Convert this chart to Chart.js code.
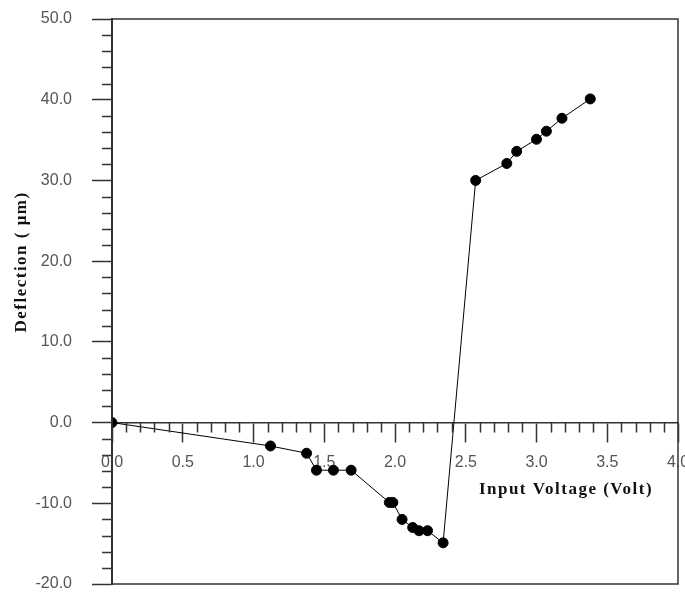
<!DOCTYPE html>
<html>
<head>
<meta charset="utf-8">
<script src="https://cdn.jsdelivr.net/npm/chart.js@4.4.1/dist/chart.umd.min.js"></script>
<style>
  body { margin: 0; background: #fff; }
</style>
</head>
<body>
<canvas id="myChart" width="685" height="593"></canvas>
<script>
var voltage = [0, 1.12, 1.375, 1.445, 1.565, 1.69, 1.96, 1.985, 2.05, 2.125, 2.17, 2.23, 2.34,
               2.57, 2.79, 2.86, 3.00, 3.07, 3.18, 3.38];
var deflection = [0, -2.9, -3.8, -5.9, -5.9, -5.9, -9.9, -9.9, -12.0, -13.0, -13.4, -13.4, -14.9,
                  30.0, 32.1, 33.6, 35.1, 36.1, 37.7, 40.1];
var xTicks = [0, 0.5, 1.0, 1.5, 2.0, 2.5, 3.0, 3.5, 4.0];
var yTicks = [-20, -10, 0, 10, 20, 30, 40, 50];

var xTitle = "Input Voltage (Volt)";
var yTitle = "Deflection ( \u03bcm)";

var points = voltage.map(function (v, i) {
    return { x: v, y: deflection[i] };
});

// box around the plot, minor ticks, axis titles
var decor = {
    id: 'decor',
    afterDraw: function (chart) {
        var ctx = chart.ctx;
        var area = chart.chartArea;
        var xs = chart.scales.x;
        var ys = chart.scales.y;
        var y0 = ys.getPixelForValue(0);
        var i, p;

        ctx.save();
        ctx.strokeStyle = '#333';
        ctx.lineWidth = 1.5;
        ctx.strokeRect(area.left, area.top, area.right - area.left, area.bottom - area.top);

        ctx.lineWidth = 1.5;
        ctx.beginPath();
        for (i = 0; i <= 40; i++) {
            if (i % 5 === 0) continue;
            p = Math.round(xs.getPixelForValue(i / 10)) + 0.5;
            ctx.moveTo(p, y0);
            ctx.lineTo(p, y0 + 10);
        }
        for (i = -20; i <= 50; i += 2) {
            if (i % 10 === 0) continue;
            p = Math.round(ys.getPixelForValue(i)) + 0.5;
            ctx.moveTo(area.left - 10, p);
            ctx.lineTo(area.left, p);
        }
        ctx.stroke();

        ctx.fillStyle = '#111';
        ctx.font = 'bold 17px "Liberation Serif", "Times New Roman", serif';
        ctx.letterSpacing = '1.5px';
        ctx.textAlign = 'center';
        ctx.textBaseline = 'middle';
        ctx.fillText(xTitle, area.left + 454, y0 + 67);

        ctx.translate(22, ys.getPixelForValue(19.9));
        ctx.rotate(-Math.PI / 2);
        ctx.fillText(yTitle, 0, 0);
        ctx.restore();
    }
};

function noPad(scale) {
    scale.paddingTop = 0;
    scale.paddingBottom = 0;
    scale.paddingLeft = 0;
    scale.paddingRight = 0;
}

var ctx = document.getElementById('myChart').getContext('2d');
new Chart(ctx, {
    type: 'scatter',
    data: {
        datasets: [{
            data: points,
            showLine: true,
            borderColor: '#000',
            borderWidth: 1,
            backgroundColor: '#000',
            pointRadius: 5,
            pointHoverRadius: 5,
            tension: 0
        }]
    },
    options: {
        responsive: false,
        animation: false,
        layout: { padding: { top: 19, right: 7, bottom: 9, left: 0 } },
        plugins: {
            legend: { display: false },
            tooltip: { enabled: false }
        },
        scales: {
            x: {
                type: 'linear',
                min: xTicks[0],
                max: xTicks[xTicks.length - 1],
                position: { y: 0 },
                afterBuildTicks: function (scale) {
                    scale.ticks = xTicks.map(function (v) { return { value: v }; });
                },
                afterFit: function (scale) {
                    noPad(scale);
                    scale.height = 0;
                },
                ticks: {
                    callback: function (v) { return Number(v).toFixed(1); },
                    color: '#555',
                    font: { family: '"Liberation Sans", Arial, sans-serif', size: 16 },
                    padding: 11,
                    maxRotation: 0,
                    autoSkip: false
                },
                grid: {
                    drawOnChartArea: false,
                    tickLength: 19,
                    tickColor: '#333',
                    tickWidth: 1.5
                },
                border: { color: '#333', width: 1.5 }
            },
            y: {
                type: 'linear',
                min: yTicks[0],
                max: yTicks[yTicks.length - 1],
                afterBuildTicks: function (scale) {
                    scale.ticks = yTicks.map(function (v) { return { value: v }; });
                },
                afterFit: function (scale) {
                    noPad(scale);
                    scale.width = 112;
                },
                ticks: {
                    callback: function (v) { return Number(v).toFixed(1); },
                    color: '#555',
                    font: { family: '"Liberation Sans", Arial, sans-serif', size: 16 },
                    padding: 20,
                    autoSkip: false
                },
                grid: {
                    drawOnChartArea: false,
                    tickLength: 20,
                    tickColor: '#333',
                    tickWidth: 1.5
                },
                border: { color: '#333', width: 2 }
            }
        }
    },
    plugins: [decor]
});
</script>
</body>
</html>
